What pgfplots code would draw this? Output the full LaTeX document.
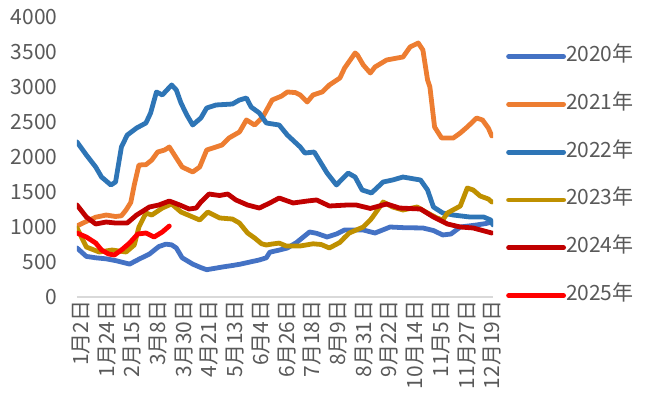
\documentclass[border=0pt]{standalone}
\usepackage{fontspec}
\setmainfont{Noto Sans CJK SC}
\usepackage{pgfplots}
\pgfplotsset{compat=1.18}
\definecolor{c2020}{HTML}{4472C4}
\definecolor{c2021}{HTML}{ED7D31}
\definecolor{c2022}{HTML}{2E75B6}
\definecolor{c2023}{HTML}{BF9000}
\definecolor{c2024}{HTML}{C00000}
\definecolor{c2025}{HTML}{FF0000}
\definecolor{txt}{HTML}{595959}
\begin{document}
\begin{tikzpicture}[x=1bp,y=1bp]
\begin{axis}[
  at={(0,0)}, anchor=south west,
  scale only axis, width=416bp, height=280bp,
  xmin=0, xmax=356, ymin=0, ymax=4000,
  axis y line*=left, axis x line*=bottom,
  y axis line style={draw=none},
  x axis line style={draw=black!15, line width=1.2bp},
  ytick={0,500,...,4000},
  xtick={0,22,...,352},
  xticklabels={1月2日,1月24日,2月15日,3月8日,3月30日,4月21日,5月13日,6月4日,6月26日,7月18日,8月9日,8月31日,9月22日,10月14日,11月5日,11月27日,12月19日},
  major tick length=0pt,
  /pgf/number format/assume math mode=true,
  /pgf/number format/1000 sep={},
  ticklabel style={font=\fontsize{21bp}{24bp}\selectfont, text=txt},
  yticklabel style={anchor=east, xshift=-16bp},
  xticklabel style={rotate=90, anchor=east, yshift=-4bp},
  every axis plot/.append style={line width=4.8bp, line join=round, line cap=round},
  legend image code/.code={\draw[#1] (0bp,0bp) -- (55bp,0bp);},
  legend style={draw=none, fill=none, at={(1,0.895)}, anchor=north west,
    xshift=13bp, font=\fontsize{21bp}{24bp}\selectfont, text=txt,
    row sep=27.8bp, inner sep=0pt,
    nodes={inner sep=0pt, text height=15bp, text depth=5bp},
    /tikz/every even column/.append style={column sep=5bp}},
  legend cell align=left,
]
\addplot[c2020] coordinates {(0,700)(8,580)(16,560)(25,545)(33,520)(45,470)(53,540)(62,614)(70,720)(76,755)(81,745)(85,700)(90,560)(99,470)(106,420)(111,390)(118,410)(125,430)(133,450)(140,470)(148,500)(156,529)(162,560)(165,640)(173,670)(180,700)(188,780)(199,929)(205,910)(214,857)(222,900)(229,957)(245,957)(255,914)(268,1000)(280,990)(296,986)(305,950)(313,886)(320,900)(328,1000)(342,1029)(350,1050)(355,1071)(356,1050)};
\addplot[c2021] coordinates {(0,1014)(8,1080)(16,1140)(25,1171)(33,1150)(38,1160)(42,1243)(46,1350)(49,1600)(53,1886)(59,1890)(64,1957)(69,2071)(75,2100)(79,2143)(85,1986)(90,1857)(99,1786)(105,1857)(111,2100)(119,2143)(124,2171)(130,2271)(139,2357)(145,2529)(152,2457)(159,2571)(167,2814)(175,2870)(180,2929)(187,2920)(191,2886)(197,2786)(202,2886)(210,2930)(216,3029)(225,3129)(229,3271)(238,3486)(240,3457)(245,3314)(251,3200)(255,3286)(265,3386)(279,3429)(285,3571)(292,3629)(296,3529)(300,3100)(302,3000)(306,2429)(312,2271)(322,2271)(328,2343)(334,2429)(342,2557)(347,2529)(352,2414)(355,2300)};
\addplot[c2022] coordinates {(0,2214)(8,2029)(16,1857)(21,1714)(29,1600)(33,1643)(38,2143)(43,2314)(51,2414)(59,2486)(63,2629)(68,2929)(73,2886)(81,3029)(85,2957)(89,2771)(94,2600)(99,2457)(106,2557)(111,2700)(119,2743)(133,2757)(139,2814)(145,2843)(149,2714)(156,2629)(162,2486)(173,2457)(180,2314)(191,2143)(195,2057)(203,2071)(214,1771)(222,1600)(232,1771)(238,1714)(244,1529)(252,1486)(262,1643)(270,1671)(279,1714)(294,1671)(300,1529)(305,1286)(313,1200)(322,1171)(336,1143)(348,1143)(354,1100)(356,1029)};
\addplot[c2023] coordinates {(0,986)(8,714)(19,643)(30,671)(42,643)(49,743)(53,1000)(59,1200)(64,1171)(73,1271)(81,1329)(89,1214)(99,1143)(105,1100)(112,1214)(122,1129)(133,1114)(139,1057)(146,914)(152,843)(158,760)(162,743)(167,757)(173,770)(179,729)(191,729)(202,760)(209,750)(216,700)(225,780)(229,850)(233,914)(239,957)(245,1000)(251,1100)(253,1143)(262,1357)(270,1286)(279,1243)(291,1286)(300,1200)(308,1129)(313,1100)(317,1200)(328,1300)(334,1557)(339,1529)(345,1443)(352,1400)(355,1357)};
\addplot[c2024] coordinates {(0,1314)(8,1143)(16,1043)(25,1071)(33,1057)(43,1057)(51,1171)(62,1286)(70,1314)(79,1371)(88,1314)(96,1257)(102,1271)(106,1357)(113,1471)(122,1450)(129,1471)(136,1386)(146,1314)(156,1271)(165,1343)(173,1414)(185,1343)(197,1371)(205,1386)(216,1300)(231,1314)(239,1314)(251,1265)(265,1329)(276,1271)(294,1257)(305,1143)(317,1043)(328,1000)(339,986)(355,914)};
\addplot[c2025] coordinates {(0,914)(8,857)(16,771)(21,671)(27,614)(32,600)(38,671)(45,771)(52,900)(59,914)(66,857)(73,929)(79,1014)};
\legend{2020年,2021年,2022年,2023年,2024年,2025年}
\end{axis}
\pgfresetboundingbox
\path (-77bp,-115bp) rectangle (582bp,297bp);
\end{tikzpicture}
\end{document}
